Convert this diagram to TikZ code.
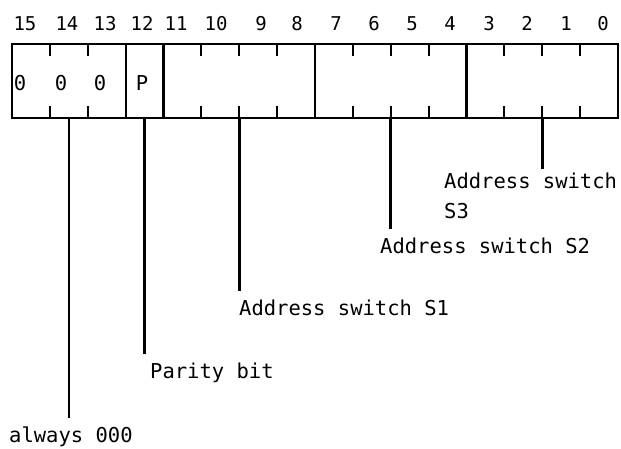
\documentclass[tikz,border=0pt]{standalone}
\usepackage{fontspec}
\setmonofont{DejaVu Sans Mono}
\usetikzlibrary{positioning}

\begin{document}
\begin{tikzpicture}[x=1pt,y=-1pt,
    every node/.style={font=\ttfamily\fontsize{20.5}{30}\selectfont, inner sep=0pt},
    bitnum/.style={font=\ttfamily\fontsize{19}{20}\selectfont, anchor=base},
    frame/.style={line width=2.2pt},
    leader/.style={line width=2.6pt}]
    \useasboundingbox (0,0) rectangle (621,448);

    % Register
    \draw[frame] (12,44) rectangle (618,118);
    \foreach \i in {3,4,8,12}
        \draw[frame] ({12+37.875*\i},44) -- ({12+37.875*\i},118);
    \foreach \i in {1,2,5,6,7,9,10,11,13,14,15} {
        \draw[frame] ({12+37.875*\i},44) -- ++(0,12);
        \draw[frame] ({12+37.875*\i},118) -- ++(0,-12);
    }

    % Bit numbers
    \foreach \i/\x in {15/25,14/67,13/105,12/142,11/176,10/216,9/261,8/297,
                       7/336,6/374,5/412,4/450,3/489,2/527,1/566,0/603}
        \node[bitnum] (n\i) at (\x,30) {\i};

    % Fields
    \node[anchor=base] (f15) at (20,90) {0};
    \node[anchor=base] (f14) at (61,90) {0};
    \node[anchor=base] (f13) at (100,90) {0};
    \node[anchor=base] (f12) at (142,90) {P};

    % Leader start points
    \coordinate (l14) at ({12+37.875*1.5},118);
    \coordinate (l12) at ({12+37.875*3.5},118);
    \coordinate (l9) at ({12+37.875*6},118);
    \coordinate (l5) at ({12+37.875*10},118);
    \coordinate (l1) at ({12+37.875*14},118);

    % Labels
    \node[anchor=base west] (always) at (9,442) {always 000};
    \node[anchor=base west] (parity) at (150,378) {Parity bit};
    \node[anchor=base west] (sw1) at (239,315) {Address switch S1};
    \node[anchor=base west] (sw2) at (380,253) {Address switch S2};
    \node[anchor=north west, align=left] (sw3) at (444,173) {Address switch\\S3};

    % Leaders
    \draw[leader] (l14) -- ([yshift=8pt]l14 |- always.north);
    \draw[leader] (l12) -- ([yshift=8pt]l12 |- parity.north);
    \draw[leader] (l9) -- ([yshift=8pt]l9 |- sw1.north);
    \draw[leader] (l5) -- ([yshift=8pt]l5 |- sw2.north);
    \draw[leader] (l1) -- ([yshift=4pt]l1 |- sw3.north);
\end{tikzpicture}
\end{document}
